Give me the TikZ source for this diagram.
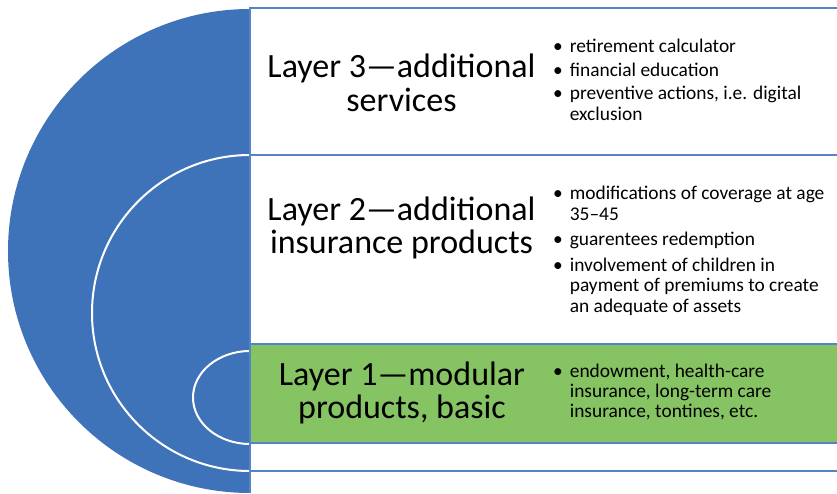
\documentclass[tikz,border=0pt]{standalone}
\usepackage{fontspec}
\setmainfont{Carlito}
\usetikzlibrary{positioning}

\definecolor{discblue}{RGB}{63,115,185}
\definecolor{frameblue}{RGB}{84,132,198}
\definecolor{basegreen}{RGB}{134,196,99}

\begin{document}
\begin{tikzpicture}
[x=1pt, y=1pt,
% STYLES
% The layer style is used for the horizontal bands on the right
layer/.style={rectangle, draw=frameblue, line width=2.5pt, fill=white, outer sep=0pt, inner sep=0pt, minimum width=600pt},
% The heading style is used to write the name of each layer
heading/.style={inner sep=0pt, align=center, font=\fontsize{34}{33.5}\selectfont},
% The points style is used for the bullet lists
points/.style={inner sep=0pt, anchor=north west, align=left, font=\fontsize{19.4}{20.5}\selectfont},
% The ring style is used for the white arcs inside the disc
ring/.style={draw=white, line width=2pt}]

\useasboundingbox (0,0) rectangle (837,493);

% Draw the half disc and its rings
\fill[discblue] (250,484) arc[start angle=90, end angle=270, radius=242] -- cycle;
\draw[ring] (250,338) arc[start angle=90, end angle=270, radius=158];
\draw[ring] (250,142) arc[start angle=90, end angle=270, x radius=57, y radius=46.5];

% Draw layers
\node [layer, minimum height=147pt] (layer3) at (550,411.5) {};
\node [layer, minimum height=189pt, below=0pt of layer3] (layer2) {};
\node [layer, minimum height=99pt, fill=basegreen, below=0pt of layer2] (layer1) {};
\node [layer, minimum height=28pt, below=0pt of layer1] (layer0) {};
\draw[frameblue, line width=2.5pt] (layer0.south west) -- ++(0,-22);

% LAYER 3
\node [heading] (title3) at (401.5,410) {Layer 3—additional\\services};
\node [points] (points3) at (553,455) {%
\begin{tabular}{@{}l@{\hspace{7pt}}l@{}}
\textbullet & retirement calculator\\[3pt]
\textbullet & financial education\\[3pt]
\textbullet & preventive actions, i.e. digital\\
 & exclusion
\end{tabular}};

% LAYER 2
\node [heading] (title2) at (401.5,265) {Layer 2—additional\\insurance products};
\node [points] (points2) at (553,308) {%
\begin{tabular}{@{}l@{\hspace{7pt}}l@{}}
\textbullet & modifications of coverage at age\\
 & 35–45\\[5pt]
\textbullet & guarentees redemption\\[5pt]
\textbullet & involvement of children in\\
 & payment of premiums to create\\
 & an adequate of assets
\end{tabular}};

% LAYER 1
\node [heading] (title1) at (402,100) {Layer 1—modular\\products, basic};
\node [points, font=\fontsize{19.4}{20}\selectfont] (points1) at (553,130) {%
\begin{tabular}{@{}l@{\hspace{7pt}}l@{}}
\textbullet & endowment, health-care\\
 & insurance, long-term care\\
 & insurance, tontines, etc.
\end{tabular}};

\end{tikzpicture}
\end{document}
